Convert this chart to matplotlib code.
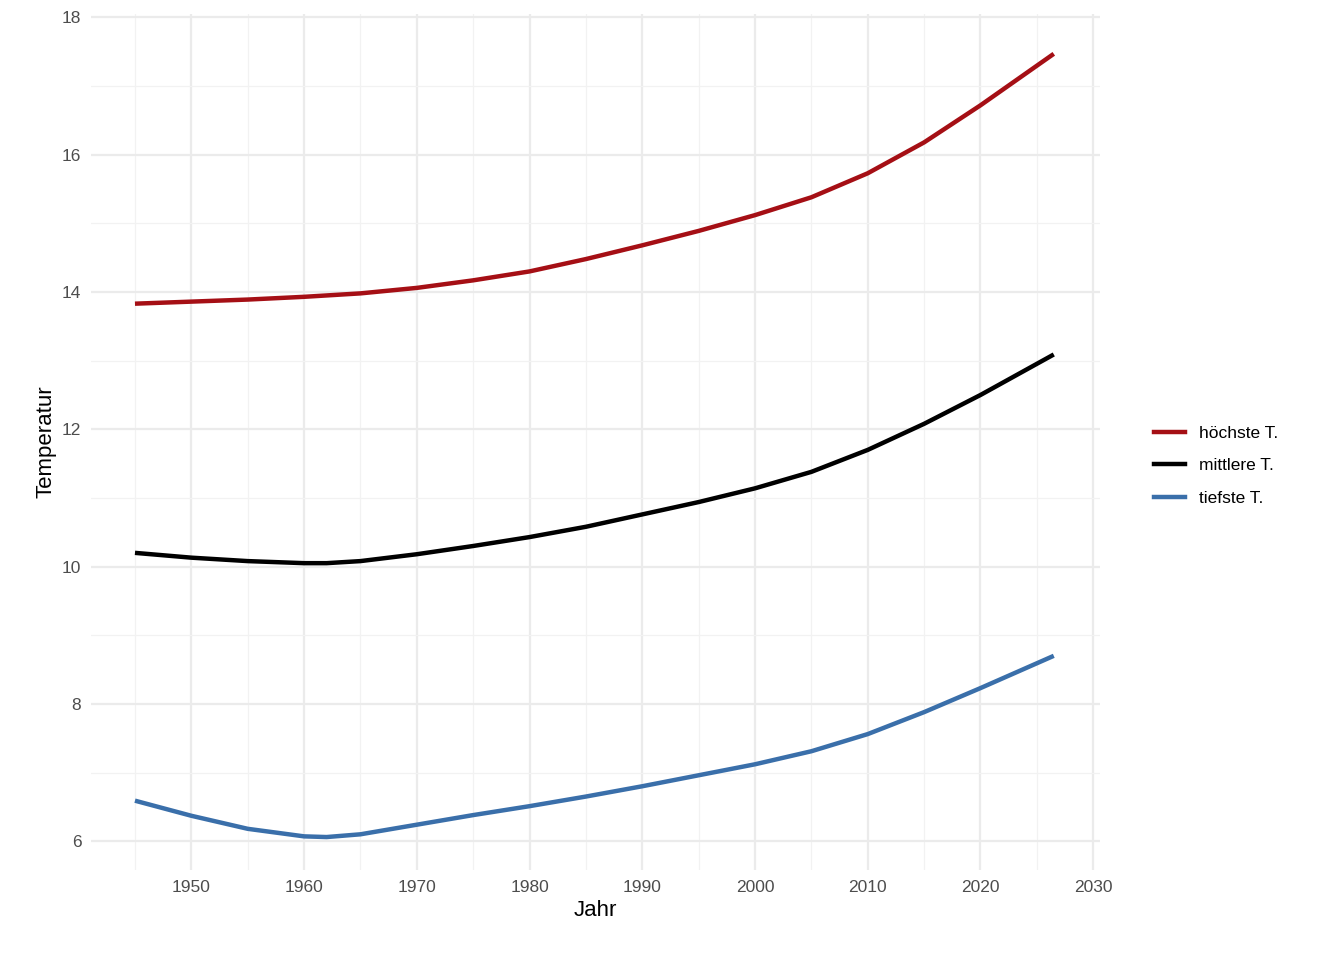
import matplotlib.pyplot as plt
from matplotlib.lines import Line2D

plt.rcParams['font.family'] = ['Liberation Sans', 'DejaVu Sans']

years = [1945, 1950, 1955, 1960, 1962, 1965, 1970, 1975, 1980, 1985, 1990,
         1995, 2000, 2005, 2010, 2015, 2020, 2026.5]
hoechste = [13.83, 13.86, 13.89, 13.93, 13.95, 13.98, 14.06, 14.17, 14.30, 14.48,
            14.68, 14.89, 15.12, 15.38, 15.73, 16.18, 16.72, 17.47]
mittlere = [10.20, 10.13, 10.08, 10.05, 10.05, 10.08, 10.18, 10.30, 10.43, 10.58,
            10.76, 10.94, 11.14, 11.38, 11.70, 12.08, 12.50, 13.09]
tiefste = [6.59, 6.37, 6.18, 6.07, 6.06, 6.10, 6.24, 6.38, 6.51, 6.65,
           6.80, 6.96, 7.12, 7.31, 7.56, 7.88, 8.23, 8.70]
labels = ["höchste T.", "mittlere T.", "tiefste T."]
colors = ["#A50F15", "#000000", "#3A6FAA"]

fig = plt.figure(figsize=(13.44, 9.6), dpi=100)
ax = fig.add_axes([91 / 1344, 1 - 870 / 960, 1009 / 1344, 856 / 960])

for y, c in zip([hoechste, mittlere, tiefste], colors):
    ax.plot(years, y, color=c, lw=3.2, solid_capstyle="butt", zorder=3)

ax.set_xticks(range(1950, 2031, 10))
ax.set_xticks(range(1945, 2030, 10), minor=True)
ax.set_yticks(range(6, 19, 2))
ax.set_yticks(range(7, 18, 2), minor=True)
ax.set_xlim(1941.1, 2030.6)
ax.set_ylim(5.58, 18.05)
ax.grid(which="major", color="#EBEBEB", lw=1.6)
ax.grid(which="minor", color="#F2F2F2", lw=0.9)
for s in ax.spines.values():
    s.set_visible(False)
ax.tick_params(which="both", length=0, labelsize=12.5, labelcolor="#4D4D4D", pad=7)
ax.set_xlabel("Jahr", fontsize=16)
ax.set_ylabel("Temperatur", fontsize=16)

handles = [Line2D([], [], color=c, lw=3.2) for c in colors]
fig.legend(handles, labels, loc="center left", bbox_to_anchor=(1138 / 1344, 0.515),
           frameon=False, fontsize=12.5, handlelength=1.8, labelspacing=1.0)

fig.savefig("out.png", dpi=100)
